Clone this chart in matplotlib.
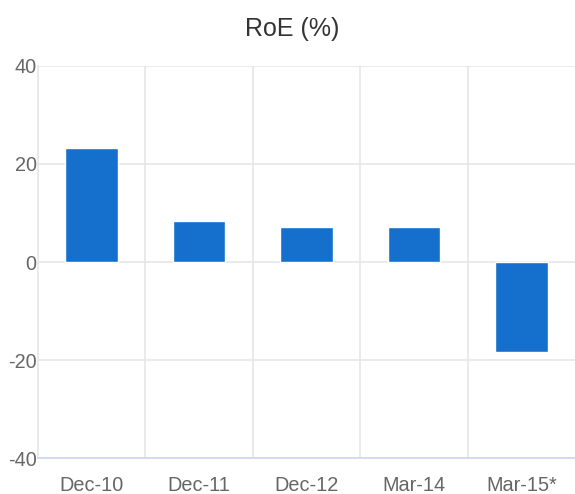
import numpy as np
import matplotlib.pyplot as plt

categories = ['Dec-10', 'Dec-11', 'Dec-12', 'Mar-14', 'Mar-15*']
roe = [23.3, 8.4, 7.2, 7.2, -18.4]
yticks = [-40, -20, 0, 20, 40]

plt.rcParams['font.family'] = ['Liberation Sans', 'DejaVu Sans']

fig = plt.figure(figsize=(5.75, 4.94), dpi=100)
ax = fig.add_axes([38/575, 1-458/494, 1-38/575, (458-66)/494])

x = np.arange(len(categories))
ax.bar(x, roe, width=0.49, color='#1470cc', edgecolor='white', linewidth=1, zorder=3)

ax.set_xlim(-0.5, len(categories)-0.5)
ax.set_ylim(-40, 40)
ax.set_yticks(yticks)
ax.set_yticklabels([str(v) for v in yticks])
ax.set_xticks(x)
ax.set_xticklabels(categories)
ax.set_xticks(np.arange(len(categories)-1)+0.5, minor=True)

ax.grid(axis='y', color='#e6e6e6', linewidth=1.2, zorder=0)
ax.grid(axis='x', which='minor', color='#e6e6e6', linewidth=1.2, zorder=0)
ax.tick_params(axis='both', which='both', length=0, labelsize=14.3, labelcolor='#666666')
ax.tick_params(axis='x', pad=13)
ax.tick_params(axis='y', pad=1)

for s in ['top', 'right']:
    ax.spines[s].set_visible(False)
ax.spines['left'].set_color('#e6e6e6')
ax.spines['left'].set_linewidth(1.2)
ax.spines['bottom'].set_color('#ccd6eb')
ax.spines['bottom'].set_linewidth(1.2)

fig.text(292.5/575, 1-29/494, 'RoE (%)', ha='center', va='center', fontsize=18, color='#333333')

fig.savefig('out.png', dpi=100)
